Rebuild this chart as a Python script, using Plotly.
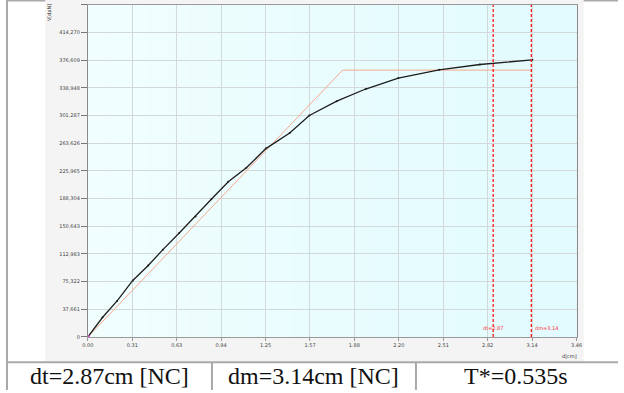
import plotly.graph_objects as go

# ---------------- data ----------------
disp_cm = [0.0, 0.103, 0.207, 0.318, 0.427, 0.531, 0.647, 0.762, 0.874, 0.994,
           1.122, 1.260, 1.429, 1.568, 1.762, 1.967, 2.198, 2.487, 2.776, 3.147]
force_daN = [0, 26380, 48970, 76840, 97130, 118780, 141370, 163960, 187360, 211310,
             230250, 256350, 277600, 301400, 320900, 337500, 352400, 363600, 370900, 377200]

bilin_d = [0.0, 1.804, 3.14]
bilin_V = [0, 363200, 363200]

dt = 2.87
dm = 3.14
t_star = 0.535

x_tick_vals = [i * 3.46 / 11 for i in range(12)]
x_tick_text = ["0.00", "0.31", "0.63", "0.94", "1.25", "1.57", "1.88", "2.20",
               "2.51", "2.82", "3.14", "3.46"]
y_tick_vals = [0, 37661, 75322, 112983, 150643, 188304, 225965, 263626,
               301287, 338948, 376609, 414270, 451931]
y_tick_text = ["0", "37,661", "75,322", "112,983", "150,643", "188,304", "225,965",
               "263,626", "301,287", "338,948", "376,609", "414,270", ""]

cells = [f"dt={dt:.2f}cm [NC]", f"dm={dm:.2f}cm [NC]", f"T*={t_star:.3f}s"]

# ---------------- layout helpers (pixels -> paper) ----------------
W, H = 624, 393
def px(x):
    return x / W
def py(y):
    return 1 - y / H

x0, x1 = 83.5, 581.7
y_top, y_bot = 5, 339.5

fig = go.Figure()

fig.add_trace(go.Scatter(x=bilin_d, y=bilin_V, mode="lines",
                         line=dict(color="#f7a98c", width=1), hoverinfo="skip"))
fig.add_trace(go.Scatter(x=disp_cm, y=force_daN, mode="lines+markers",
                         line=dict(color="#1e1e1e", width=1.3),
                         marker=dict(size=2, color="#1e1e1e"), hoverinfo="skip"))
fig.add_trace(go.Scatter(x=[disp_cm[0]], y=[force_daN[0]], mode="markers",
                         marker=dict(size=4, color="#e040e0"), hoverinfo="skip"))

shapes = []
# chart panel background
shapes.append(dict(type="rect", xref="paper", yref="paper", x0=px(40), x1=px(589),
                   y0=py(364), y1=py(0), fillcolor="#f4f4f4", line=dict(width=0),
                   layer="below"))
# cyan gradient in plot area
nb = 24
c0 = (240, 254, 254)
c1 = (226, 251, 254)
for i in range(nb):
    t = i / (nb - 1)
    c = tuple(round(c0[k] + (c1[k] - c0[k]) * t) for k in range(3))
    xa = x0 + (x1 - x0) * i / nb
    xb = x0 + (x1 - x0) * (i + 1) / nb
    shapes.append(dict(type="rect", xref="paper", yref="paper", x0=px(xa), x1=px(xb) + 0.0005,
                       y0=py(y_bot), y1=py(y_top), fillcolor="rgb(%d,%d,%d)" % c,
                       line=dict(width=0), layer="below"))
# table borders
gray = "#a9a9a9"
shapes.append(dict(type="line", xref="paper", yref="paper", x0=px(1), x1=px(1),
                   y0=0, y1=1, line=dict(color=gray, width=2)))
shapes.append(dict(type="line", xref="paper", yref="paper", x0=0, x1=px(40),
                   y0=py(0.5), y1=py(0.5), line=dict(color=gray, width=2)))
shapes.append(dict(type="line", xref="paper", yref="paper", x0=px(589), x1=1,
                   y0=py(0.5), y1=py(0.5), line=dict(color=gray, width=2)))
shapes.append(dict(type="line", xref="paper", yref="paper", x0=0, x1=1,
                   y0=py(365), y1=py(365), line=dict(color=gray, width=2)))
for sx in (210, 418):
    shapes.append(dict(type="line", xref="paper", yref="paper", x0=px(sx), x1=px(sx),
                       y0=0, y1=py(365), line=dict(color=gray, width=2)))
# dt / dm lines
for v in (dt, dm):
    shapes.append(dict(type="line", xref="x", yref="paper", x0=v, x1=v,
                       y0=py(y_bot), y1=py(y_top),
                       line=dict(color="#ff1a1a", width=1.3, dash="3px,2px")))

annotations = []
annotations.append(dict(x=dt, y=py(331), xref="x", yref="paper", text=f"dt={dt:.2f}",
                        showarrow=False, xanchor="left", yanchor="middle", xshift=-12,
                        font=dict(size=5, color="#ff3030", family="DejaVu Sans")))
annotations.append(dict(x=dm, y=py(331), xref="x", yref="paper", text=f"dm={dm:.2f}",
                        showarrow=False, xanchor="left", yanchor="middle", xshift=2,
                        font=dict(size=5, color="#ff3030", family="DejaVu Sans")))
annotations.append(dict(x=px(575), y=py(359), xref="paper", yref="paper", text="d[cm]",
                        showarrow=False, xanchor="center", yanchor="middle",
                        font=dict(size=5, color="#333", family="DejaVu Sans")))
annotations.append(dict(x=px(44), y=py(13), xref="paper", yref="paper", text="V[daN]",
                        showarrow=False, textangle=-90, xanchor="center", yanchor="middle",
                        font=dict(size=5, color="#333", family="DejaVu Sans")))
cell_centers = [106, 314, 520]
for cx, txt in zip(cell_centers, cells):
    annotations.append(dict(x=px(cx), y=py(379), xref="paper", yref="paper", text=txt,
                            showarrow=False, xanchor="center", yanchor="middle",
                            font=dict(size=24, color="#111", family="Liberation Serif")))

fig.update_layout(
    width=W, height=H, margin=dict(l=0, r=0, t=0, b=0),
    paper_bgcolor="white", plot_bgcolor="rgba(0,0,0,0)",
    showlegend=False, shapes=shapes, annotations=annotations, hovermode=False,
    xaxis=dict(domain=[px(x0), px(x1)], range=[0, 3.46], tickmode="array",
               tickvals=x_tick_vals, ticktext=x_tick_text, showgrid=True,
               gridcolor="#d3d9d9", gridwidth=1, zeroline=False, showline=True,
               linecolor="#9a9a9a", mirror=True, ticks="outside", ticklen=3,
               tickcolor="#999", tickfont=dict(size=5, color="#444", family="DejaVu Sans")),
    yaxis=dict(domain=[py(y_bot), py(y_top)], range=[0, 451931], tickmode="array",
               tickvals=y_tick_vals, ticktext=y_tick_text, showgrid=True,
               gridcolor="#d3d9d9", gridwidth=1, zeroline=False, showline=True,
               linecolor="#8a8a8a", mirror=True, ticks="outside", ticklen=6,
               tickcolor="#777", tickfont=dict(size=5, color="#444", family="DejaVu Sans")),
)

fig.write_html("out.html", config={"displayModeBar": False},
               post_script="document.body.style.margin='0';document.body.style.overflow='hidden';")
